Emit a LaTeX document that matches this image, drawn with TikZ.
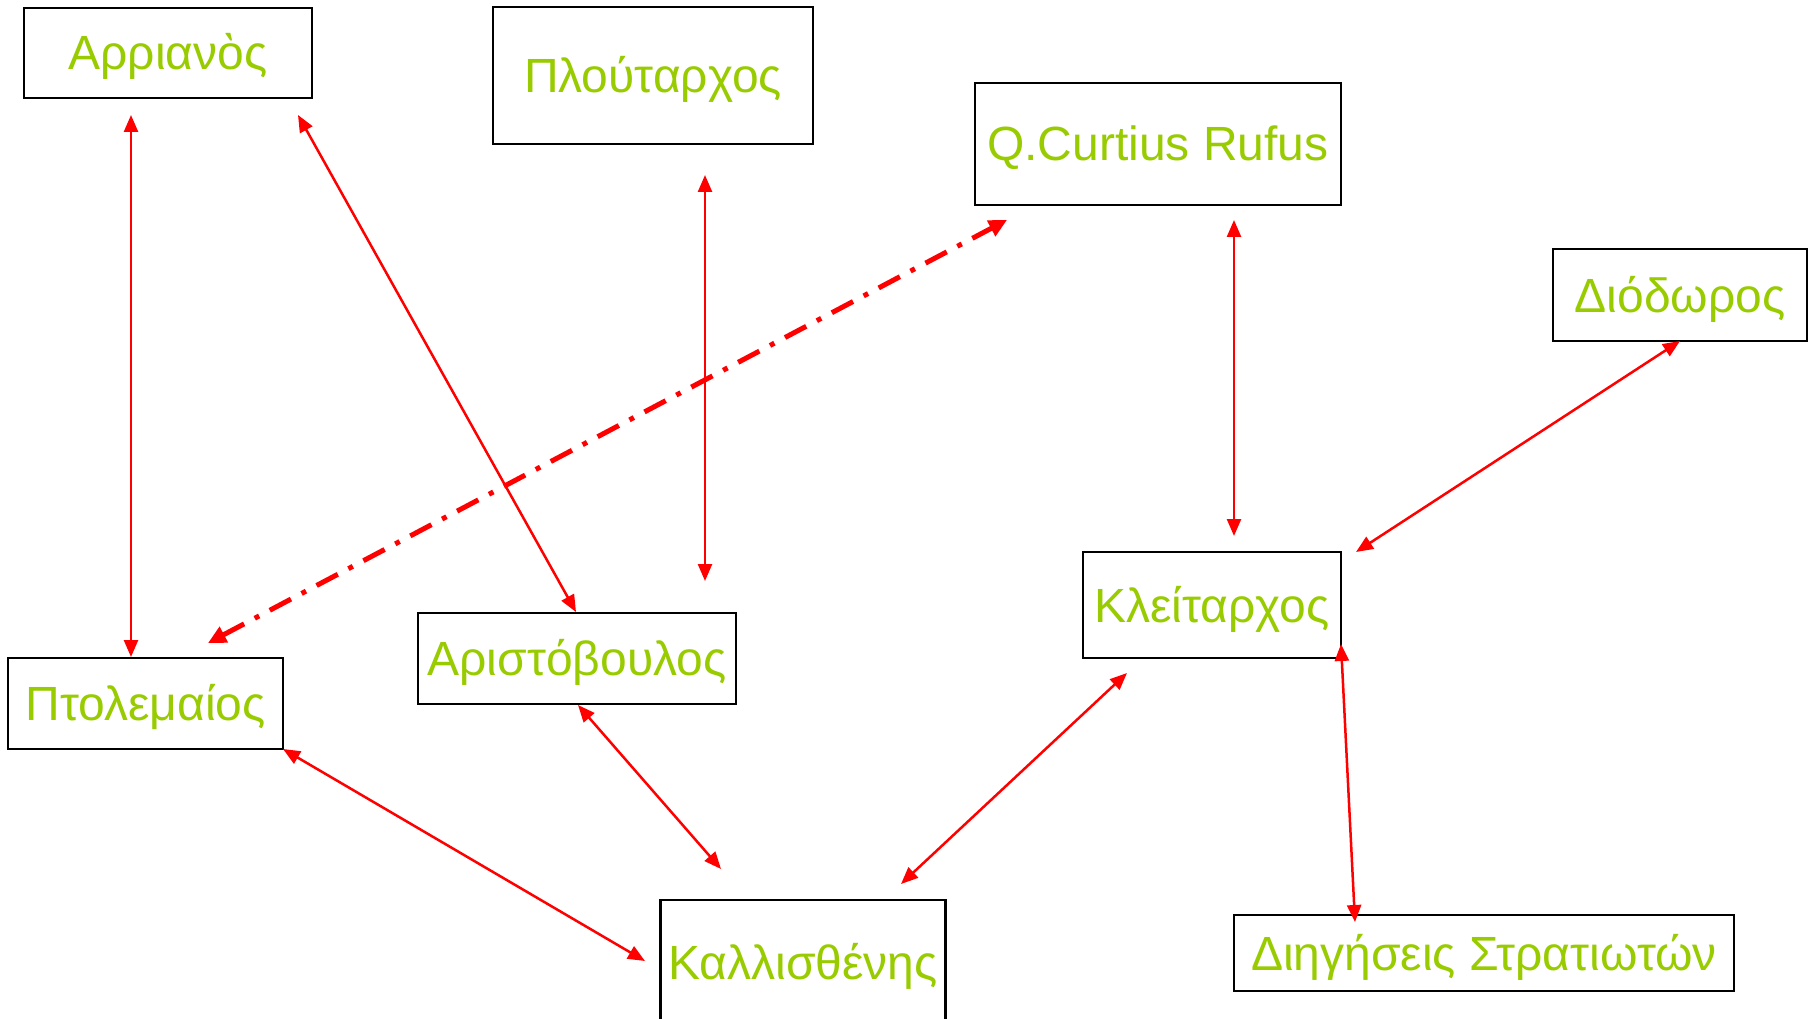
\documentclass[tikz,border=0pt]{standalone}
\usepackage{fontspec}
\setmainfont{Liberation Sans}
\usetikzlibrary{arrows.meta}
\definecolor{txtgreen}{RGB}{153,204,0}
\tikzset{
  box/.style={draw=black, line width=2.5pt, rectangle, inner sep=0pt,
    text=txtgreen, font=\fontsize{48}{57}\selectfont,
    text height=34pt, text depth=0pt, align=center},
  conn/.style={draw=red, line width=2.5pt, {Triangle[length=17pt,width=14pt]}-{Triangle[length=17pt,width=14pt]}},
  dconn/.style={draw=red, line width=5pt, dash pattern=on 24pt off 12pt on 5pt off 12pt,
    {Triangle[length=18pt,width=17pt]}-{Triangle[length=18pt,width=17pt]}}
}
\begin{document}
\begin{tikzpicture}[x=1pt,y=-1pt]
\useasboundingbox (0,0) rectangle (1810,1019);
\fill[white] (0,0) rectangle (1810,1019);
% nodes
\node[box, minimum width=288pt, minimum height=90pt] (arr) at (168,53) {Αρριανὸς};
\node[box, minimum width=320pt, minimum height=137pt] (plu) at (653,75.5) {Πλούταρχος};
\node[box, minimum width=366pt, minimum height=122pt] (cur) at (1158,144) {Q.Curtius Rufus};
\node[box, minimum width=254pt, minimum height=92pt] (dio) at (1680,295) {Διόδωρος};
\node[box, minimum width=275pt, minimum height=91pt] (pto) at (145.5,703.5) {Πτολεμαίος};
\node[box, minimum width=318pt, minimum height=91pt] (ari) at (577,658.5) {Αριστόβουλος};
\node[box, minimum width=285pt, minimum height=125pt] (kal) at (803,962.5) {Καλλισθένης};
\node[box, minimum width=258pt, minimum height=106pt] (kle) at (1212,605) {Κλείταρχος};
\node[box, minimum width=500pt, minimum height=76pt] (dig) at (1484,953) {Διηγήσεις Στρατιωτών};
% connector end points
\coordinate (arrA) at (131,115);  \coordinate (ptoA) at (131,657);
\coordinate (arrB) at (298,115);  \coordinate (ariA) at (576,612);
\coordinate (pluA) at (705,175);  \coordinate (pluB) at (705,581);
\coordinate (ptoB) at (208,643);  \coordinate (curA) at (1007,220);
\coordinate (curB) at (1234,220); \coordinate (kleA) at (1234,536);
\coordinate (dioA) at (1680,341); \coordinate (kleB) at (1356,552);
\coordinate (kleC) at (1341,644); \coordinate (digA) at (1355,922);
\coordinate (kleD) at (1127,673); \coordinate (kalA) at (901,884);
\coordinate (ariB) at (578,705);  \coordinate (kalB) at (721,869);
\coordinate (ptoC) at (283,749);  \coordinate (kalC) at (645,961);
% connectors
\draw[conn] (arrA) -- (ptoA);
\draw[conn] (arrB) -- (ariA);
\draw[conn] (pluA) -- (pluB);
\draw[dconn] (ptoB) -- (curA);
\draw[conn] (curB) -- (kleA);
\draw[conn] (dioA) -- (kleB);
\draw[conn] (kleC) -- (digA);
\draw[conn] (kleD) -- (kalA);
\draw[conn] (ariB) -- (kalB);
\draw[conn] (ptoC) -- (kalC);
\end{tikzpicture}
\end{document}
